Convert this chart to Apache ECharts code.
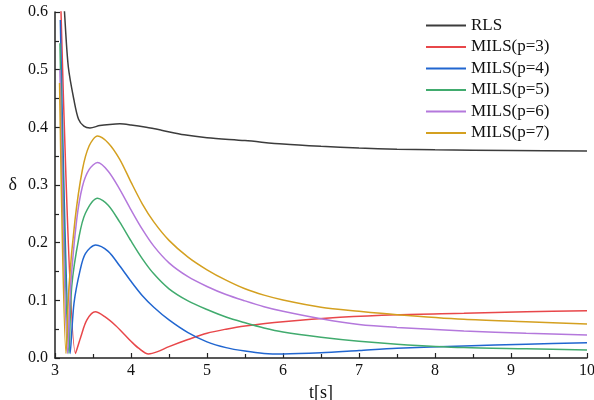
<!DOCTYPE html>
<html>
<head>
<meta charset="utf-8">
<script src="https://cdn.jsdelivr.net/npm/echarts@6/dist/echarts.min.js"></script>
<style>
  html, body { margin: 0; padding: 0; background: #fff; }
  #chart { width: 594px; height: 400px; }
</style>
</head>
<body>
<div id="chart"></div>
<script>
// 图例名称
const seriesNames = ['RLS', 'MILS(p=3)', 'MILS(p=4)', 'MILS(p=5)', 'MILS(p=6)', 'MILS(p=7)']

// 各曲线数据 [t, δ]
const rls = [
  [3.10, 0.66], [3.125, 0.60], [3.175, 0.505], [3.25, 0.447], [3.31, 0.414], [3.38, 0.402],
  [3.46, 0.399], [3.59, 0.403], [3.72, 0.405], [3.855, 0.406], [4.0, 0.404], [4.2, 0.400],
  [4.4, 0.395], [4.7, 0.387], [5.0, 0.382], [5.5, 0.377], [6.0, 0.371], [6.5, 0.367],
  [7.0, 0.364], [7.5, 0.362], [8.0, 0.361], [9.0, 0.360], [10.0, 0.359]
]
const mils3 = [
  [3.075, 0.62], [3.27, 0.008], [3.34, 0.037], [3.42, 0.066], [3.53, 0.080], [3.65, 0.072],
  [3.80, 0.056], [3.92, 0.040], [4.0, 0.029], [4.10, 0.017], [4.23, 0.007], [4.35, 0.011],
  [4.5, 0.0197], [4.75, 0.032], [5.0, 0.043], [5.25, 0.050], [5.5, 0.0555], [6.0, 0.063],
  [6.75, 0.0705], [7.5, 0.075], [8.38, 0.0775], [9.2, 0.080], [10.0, 0.082]
]
const mils4 = [
  [3.07, 0.586], [3.20, 0.008], [3.25, 0.095], [3.33, 0.152], [3.40, 0.181], [3.535, 0.196],
  [3.70, 0.185], [3.85, 0.160], [4.0, 0.133], [4.15, 0.108], [4.3, 0.088], [4.5, 0.066],
  [4.75, 0.044], [5.0, 0.028], [5.25, 0.018], [5.5, 0.012], [5.75, 0.008], [6.0, 0.007],
  [6.5, 0.009], [7.0, 0.013], [7.5, 0.017], [8.38, 0.021], [9.2, 0.024], [10.0, 0.0266]
]
const mils5 = [
  [3.065, 0.546], [3.184, 0.008], [3.22, 0.124], [3.316, 0.210], [3.40, 0.251], [3.56, 0.277],
  [3.70, 0.265], [3.85, 0.236], [4.0, 0.203], [4.15, 0.172], [4.3, 0.146], [4.5, 0.120],
  [4.75, 0.099], [5.0, 0.084], [5.25, 0.071], [5.5, 0.061], [5.75, 0.052], [6.0, 0.045],
  [6.5, 0.036], [7.0, 0.029], [7.5, 0.024], [8.38, 0.018], [9.2, 0.016], [10.0, 0.014]
]
const mils6 = [
  [3.065, 0.50], [3.167, 0.008], [3.206, 0.124], [3.285, 0.239], [3.36, 0.297], [3.45, 0.327],
  [3.56, 0.339], [3.70, 0.324], [3.85, 0.293], [4.0, 0.257], [4.15, 0.223], [4.3, 0.194],
  [4.5, 0.165], [4.75, 0.141], [5.0, 0.124], [5.25, 0.110], [5.5, 0.099], [5.75, 0.089],
  [6.0, 0.081], [6.5, 0.068], [7.0, 0.058], [7.5, 0.053], [8.38, 0.047], [9.2, 0.043],
  [10.0, 0.040]
]
const mils7 = [
  [3.06, 0.477], [3.145, 0.008], [3.184, 0.124], [3.263, 0.239], [3.36, 0.326], [3.45, 0.368],
  [3.56, 0.385], [3.70, 0.373], [3.85, 0.345], [4.0, 0.305], [4.15, 0.267], [4.3, 0.236],
  [4.5, 0.204], [4.75, 0.175], [5.0, 0.153], [5.25, 0.135], [5.5, 0.120], [5.75, 0.109],
  [6.0, 0.1006], [6.5, 0.088], [7.0, 0.081], [7.5, 0.075], [8.38, 0.067], [9.2, 0.063],
  [10.0, 0.059]
]

// 线条颜色
const colors = ['#3c3c3c', '#e8474a', '#2166d0', '#41ab6e', '#b478dc', '#d4a020']

const seriesData = [rls, mils3, mils4, mils5, mils6, mils7]

const font = "'Liberation Serif', 'Times New Roman', serif"

const chart = echarts.init(document.getElementById('chart'))

chart.setOption({
  animation: false,
  color: colors,
  grid: {
    left: 55,
    right: 7,
    top: 12,
    bottom: 42,
    outerBoundsMode: 'none',
  },
  legend: {
    orient: 'vertical',
    left: 421,
    top: 12,
    icon: 'rect',
    itemWidth: 40,
    itemHeight: 2,
    itemGap: 4.5,
    textStyle: {
      fontFamily: font,
      fontSize: 17,
      lineHeight: 17,
      color: '#111',
    },
    data: seriesNames,
  },
  xAxis: {
    type: 'value',
    min: 3,
    max: 10,
    interval: 1,
    name: 't[s]',
    nameLocation: 'middle',
    nameGap: 16,
    nameTextStyle: { fontFamily: font, fontSize: 18, color: '#111' },
    axisLine: { lineStyle: { color: '#222', width: 1.5 } },
    axisTick: { inside: true, length: 5, lineStyle: { color: '#222', width: 1.2 } },
    minorTick: { show: true, splitNumber: 2, length: 4, lineStyle: { color: '#222', width: 1.2 } },
    axisLabel: { fontFamily: font, fontSize: 16, color: '#111', margin: 5 },
    splitLine: { show: false },
  },
  yAxis: {
    type: 'value',
    min: 0,
    max: 0.6,
    interval: 0.1,
    name: 'δ',
    nameLocation: 'middle',
    nameRotate: 0,
    nameGap: 38,
    nameTextStyle: { fontFamily: font, fontSize: 18, color: '#111' },
    axisLine: { show: true, lineStyle: { color: '#222', width: 1.5 } },
    axisTick: { show: true, inside: true, length: 5, lineStyle: { color: '#222', width: 1.2 } },
    minorTick: { show: true, splitNumber: 2, length: 4, lineStyle: { color: '#222', width: 1.2 } },
    axisLabel: {
      fontFamily: font,
      fontSize: 16,
      color: '#111',
      margin: 7,
      formatter: (v) => v.toFixed(1),
    },
    splitLine: { show: false },
  },
  series: seriesData.map((d, i) => ({
    name: seriesNames[i],
    type: 'line',
    data: d,
    smooth: 0.3,
    showSymbol: false,
    clip: true,
    lineStyle: { width: 1.5 },
  })),
})
</script>
</body>
</html>
